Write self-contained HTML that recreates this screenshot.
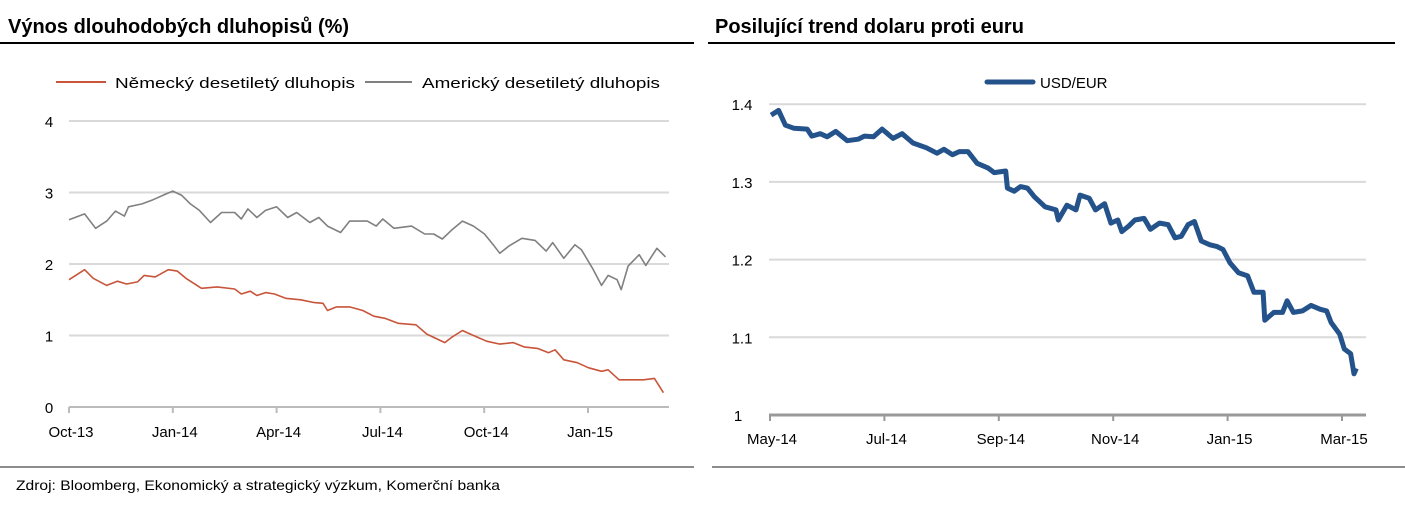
<!DOCTYPE html>
<html><head><meta charset="utf-8"><style>
body{margin:0;background:#fff;font-family:"Liberation Sans",sans-serif;}
svg{display:block}
</style></head><body>
<svg width="1405" height="506" xmlns="http://www.w3.org/2000/svg" font-family="Liberation Sans, sans-serif">
<text x="8" y="33" font-size="20" font-weight="bold" fill="#000">Výnos dlouhodobých dluhopisů (%)</text>
<rect x="0" y="42" width="694" height="2" fill="#000"/>
<text x="715" y="33" font-size="20" font-weight="bold" fill="#000">Posilující trend dolaru proti euru</text>
<rect x="708" y="42" width="687" height="2" fill="#000"/>
<rect x="0" y="466" width="694" height="2" fill="#8c8c8c"/>
<rect x="712" y="466" width="693" height="2" fill="#8c8c8c"/>
<text x="16" y="490" font-size="14" fill="#000" textLength="484" lengthAdjust="spacingAndGlyphs">Zdroj: Bloomberg, Ekonomický a strategický výzkum, Komerční banka</text>
<g>
<line x1="56" y1="82" x2="106" y2="82" stroke="#c8553a" stroke-width="2"/>
<text x="115" y="88" font-size="15" fill="#000" textLength="240" lengthAdjust="spacingAndGlyphs">Německý desetiletý dluhopis</text>
<line x1="365" y1="82" x2="412" y2="82" stroke="#808080" stroke-width="2"/>
<text x="422" y="88" font-size="15" fill="#000" textLength="238" lengthAdjust="spacingAndGlyphs">Americký desetiletý dluhopis</text>
</g>
<g>
<line x1="987" y1="82" x2="1033" y2="82" stroke="#24528a" stroke-width="5" stroke-linecap="round"/>
<text x="1040" y="88" font-size="15" fill="#000">USD/EUR</text>
</g>
<g id="left"></g>
<g id="right"></g>
</svg>
<script>
const leftYTicks=[0,1,2,3,4];
const leftXLabels=["Oct-13","Jan-14","Apr-14","Jul-14","Oct-14","Jan-15"];
const deT=[0,.45,.70,1.09,1.40,1.66,1.98,2.17,2.49,2.87,3.13,3.38,3.83,4.28,4.79,4.98,5.24,5.43,5.68,5.94,6.26,6.70,7.09,7.34,7.47,7.73,8.11,8.49,8.81,9.13,9.51,10.03,10.34,10.86,11.05,11.37,11.69,12.07,12.45,12.84,13.15,13.54,13.86,14.05,14.30,14.69,15.01,15.39,15.58,15.90,16.28,16.60,16.92,17.18];
const deV=[1.78,1.92,1.8,1.7,1.76,1.72,1.75,1.84,1.82,1.92,1.9,1.8,1.66,1.68,1.65,1.58,1.62,1.56,1.6,1.58,1.52,1.5,1.46,1.45,1.35,1.4,1.4,1.35,1.27,1.24,1.17,1.15,1.02,0.9,0.97,1.07,1.0,0.92,0.88,0.9,0.84,0.82,0.76,0.8,0.66,0.62,0.55,0.5,0.52,0.38,0.38,0.38,0.4,0.2];
const usT=[0,.45,.77,1.09,1.34,1.60,1.72,2.11,2.43,2.81,3.00,3.26,3.51,3.77,4.09,4.41,4.79,4.98,5.17,5.43,5.68,6.00,6.32,6.58,6.96,7.22,7.47,7.85,8.11,8.62,8.88,9.07,9.39,9.90,10.28,10.54,10.79,11.05,11.37,11.69,12.01,12.26,12.45,12.71,13.09,13.47,13.79,13.98,14.30,14.62,14.81,15.13,15.39,15.58,15.84,15.96,16.16,16.48,16.67,16.99,17.24];
const usV=[2.62,2.7,2.5,2.6,2.74,2.67,2.8,2.84,2.9,2.98,3.02,2.96,2.84,2.75,2.58,2.72,2.72,2.63,2.77,2.65,2.75,2.8,2.65,2.72,2.58,2.65,2.53,2.44,2.6,2.6,2.53,2.63,2.5,2.53,2.42,2.42,2.35,2.47,2.6,2.53,2.42,2.27,2.15,2.25,2.36,2.33,2.18,2.3,2.08,2.27,2.2,1.94,1.7,1.84,1.78,1.64,1.97,2.13,1.98,2.22,2.1];
const rightYTicks=[1,1.1,1.2,1.3,1.4];
const rightYLabels=["1","1.1","1.2","1.3","1.4"];
const rightXLabels=["May-14","Jul-14","Sep-14","Nov-14","Jan-15","Mar-15"];
const fxT=[.02,.15,.27,.42,.65,.73,.88,1.00,1.15,1.35,1.54,1.65,1.81,1.96,2.15,2.31,2.50,2.73,2.92,3.04,3.19,3.31,3.46,3.62,3.81,3.92,4.12,4.15,4.27,4.38,4.50,4.62,4.81,5.00,5.04,5.19,5.35,5.42,5.58,5.69,5.85,5.96,6.08,6.15,6.27,6.38,6.54,6.65,6.81,6.96,7.08,7.19,7.31,7.42,7.54,7.69,7.81,7.92,8.04,8.19,8.35,8.46,8.62,8.65,8.81,8.96,9.04,9.15,9.31,9.46,9.62,9.73,9.81,9.96,10.04,10.15,10.21,10.25];
const fxV=[1.386,1.392,1.373,1.369,1.368,1.359,1.362,1.358,1.365,1.353,1.355,1.359,1.358,1.368,1.356,1.362,1.350,1.344,1.337,1.342,1.335,1.339,1.339,1.324,1.318,1.312,1.314,1.292,1.288,1.294,1.292,1.281,1.268,1.264,1.251,1.270,1.264,1.283,1.279,1.264,1.272,1.247,1.251,1.236,1.243,1.251,1.253,1.239,1.247,1.245,1.228,1.230,1.245,1.249,1.224,1.219,1.217,1.213,1.196,1.183,1.179,1.158,1.158,1.122,1.132,1.132,1.147,1.132,1.134,1.141,1.136,1.134,1.119,1.104,1.085,1.079,1.053,1.060];
const NS="http://www.w3.org/2000/svg";
function mk(parent,tag,attrs){const e=document.createElementNS(NS,tag);for(const k in attrs)e.setAttribute(k,attrs[k]);parent.appendChild(e);return e;}
function txt(parent,x,y,s,anchor){const e=mk(parent,"text",{x:x,y:y,"font-size":15,fill:"#000","text-anchor":anchor});e.textContent=s;return e;}
const L=document.getElementById("left");
const lx=t=>69+t*34.6, ly=v=>407-v*71.5;
leftYTicks.forEach(v=>{
  if(v>0){const g=mk(L,"line",{x1:69,x2:669,y1:ly(v),y2:ly(v),stroke:"#d9d9d9","stroke-width":2});
  
  }
  const t=txt(L,49,ly(v)+6,String(v),"middle");
  
  
});
const lax=mk(L,"line",{x1:69,x2:669,y1:407,y2:407,stroke:"#bbb","stroke-width":2});


leftXLabels.forEach((s,i)=>{
  const x=lx(i*3);
  const tk=mk(L,"line",{x1:x,x2:x,y1:407,y2:413,stroke:"#bbb","stroke-width":2});
  
  
  const t=txt(L,x+2,437,s,"middle");
  
  
});
function poly(parent,T,V,fx,fy,color,w){return mk(parent,"polyline",{points:T.map((t,i)=>fx(t).toFixed(1)+","+fy(V[i]).toFixed(1)).join(" "),fill:"none",stroke:color,"stroke-width":w,"stroke-linejoin":"round"});}
const us=poly(L,usT,usV,lx,ly,"#808080",1.6);


const de=poly(L,deT,deV,lx,ly,"#c8553a",1.6);


const R=document.getElementById("right");
const rx=t=>770+t*57.2, ry=v=>415-(v-1)*777;
rightYTicks.forEach((v,i)=>{
  if(i>0){const g=mk(R,"line",{x1:769,x2:1366,y1:ry(v),y2:ry(v),stroke:"#d9d9d9","stroke-width":2});
  
  }
  const t=txt(R,i===0?738:742,ry(v)+6,rightYLabels[i],"middle");
  
  
});
const rax=mk(R,"line",{x1:769,x2:1366,y1:415,y2:415,stroke:"#999","stroke-width":3});


rightXLabels.forEach((s,i)=>{
  const x=rx(i*2);
  const tk=mk(R,"line",{x1:x,x2:x,y1:415,y2:421,stroke:"#999","stroke-width":2});
  
  
  const t=txt(R,x+2,444,s,"middle");
  
  
});
const fx=poly(R,fxT,fxV,rx,ry,"#24528a",5);


</script>
</body></html>
